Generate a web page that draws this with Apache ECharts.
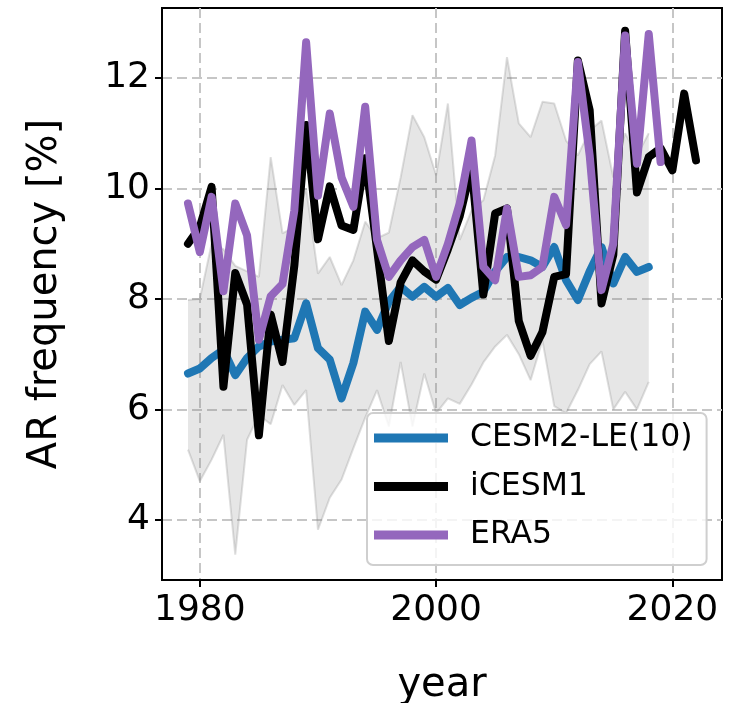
<!DOCTYPE html>
<html>
<head>
<meta charset="utf-8">
<script src="https://cdn.jsdelivr.net/npm/echarts@6/dist/echarts.min.js"></script>
<style>html,body{margin:0;padding:0;background:#fff}#c{width:746px;height:703px}</style>
</head>
<body>
<div id="c"></div>
<script>
const cesmYears = [1979,1980,1981,1982,1983,1984,1985,1986,1987,1988,1989,1990,1991,1992,1993,1994,1995,1996,1997,1998,1999,2000,2001,2002,2003,2004,2005,2006,2007,2008,2009,2010,2011,2012,2013,2014,2015,2016,2017,2018];
const cesm2 = [6.65,6.74,6.93,7.08,6.62,6.93,7.14,7.23,7.26,7.29,7.92,7.11,6.90,6.20,6.84,7.77,7.44,7.95,8.22,8.04,8.22,8.04,8.20,7.89,8.02,8.13,8.50,8.76,8.76,8.70,8.58,8.94,8.34,7.98,8.50,8.94,8.28,8.76,8.49,8.58];
const bandLower = [5.27,4.70,5.09,5.54,3.37,5.45,5.90,5.73,6.44,6.08,6.35,3.82,4.40,4.73,5.30,5.85,6.35,5.69,6.86,5.69,6.65,5.93,6.20,6.10,6.45,6.85,7.14,7.35,7.00,6.53,7.25,6.06,5.93,6.35,6.82,7.05,6.00,6.32,6.00,6.50];
const bandUpper = [7.98,8.00,9.00,8.90,8.60,8.50,8.40,10.57,9.19,9.30,10.00,8.46,8.76,8.25,8.70,9.40,9.10,9.20,10.20,11.33,10.93,10.24,11.54,9.07,9.60,9.79,10.60,12.38,11.18,10.93,11.57,11.54,10.87,10.60,11.05,11.23,10.20,11.00,10.60,11.00];
const icesmYears = [1979,1980,1981,1982,1983,1984,1985,1986,1987,1988,1989,1990,1991,1992,1993,1994,1995,1996,1997,1998,1999,2000,2001,2002,2003,2004,2005,2006,2007,2008,2009,2010,2011,2012,2013,2014,2015,2016,2017,2018,2019,2020,2021,2022];
const icesm1 = [9.00,9.30,10.03,6.41,8.47,7.90,5.53,7.72,6.86,8.60,11.15,9.08,10.04,9.33,9.25,10.55,8.90,7.24,8.30,8.70,8.50,8.35,8.90,9.50,10.40,8.08,9.55,9.64,7.60,6.97,7.40,8.40,8.45,12.32,11.42,7.92,8.80,12.86,9.93,10.57,10.73,10.33,11.72,10.51];
const era5Years = [1979,1980,1981,1982,1983,1984,1985,1986,1987,1988,1989,1990,1991,1992,1993,1994,1995,1996,1997,1998,1999,2000,2001,2002,2003,2004,2005,2006,2007,2008,2009,2010,2011,2012,2013,2014,2015,2016,2017,2018,2019];
const era5 = [9.73,8.85,9.85,8.14,9.73,9.15,7.26,8.05,8.27,9.60,12.65,9.87,11.36,10.20,9.67,11.48,9.07,8.40,8.70,8.94,9.07,8.40,9.00,9.73,10.87,8.58,8.34,9.64,8.40,8.43,8.58,9.85,9.34,12.29,10.60,8.16,9.00,12.77,10.45,12.80,10.48];
const xTicks = [1980, 2000, 2020];
const yTicks = [4, 6, 8, 10, 12];
const seriesNames = ['CESM2-LE(10)', 'iCESM1', 'ERA5'];

const FONT = 'DejaVu Sans';
const pair = (xs, ys) => xs.map((x, i) => [x, ys[i]]);

const chart = echarts.init(document.getElementById('c'), null, {renderer: 'canvas'});
const gridLine = {show: true, lineStyle: {color: '#c6c6c6', width: 2, type: [10, 5]}};
const bandEdge = {color: 'rgba(128,128,128,0.25)', width: 2};
chart.setOption({
  animation: false,
  grid: {left: 162, top: 8, width: 560, height: 572, show: true, borderColor: '#000', borderWidth: 2, backgroundColor: 'transparent', containLabel: false, outerBoundsMode: 'none'},
  xAxis: {
    type: 'value', min: 1976.8, max: 2024.2,
    name: 'year', nameLocation: 'middle', nameGap: 86,
    nameTextStyle: {fontFamily: FONT, fontSize: 40, color: '#000'},
    axisLine: {show: true, lineStyle: {color: '#000', width: 2}},
    axisTick: {show: true, length: 7, lineStyle: {color: '#000', width: 2}, customValues: xTicks},
    axisLabel: {show: true, fontFamily: FONT, fontSize: 36, color: '#000', margin: 13, customValues: xTicks, formatter: v => String(v)},
    splitLine: gridLine
  },
  yAxis: {
    type: 'value', min: 2.91, max: 13.27,
    name: 'AR frequency [%]', nameLocation: 'middle', nameGap: 96,
    nameTextStyle: {fontFamily: FONT, fontSize: 40, color: '#000'},
    axisLine: {show: true, lineStyle: {color: '#000', width: 2}},
    axisTick: {show: true, length: 7, lineStyle: {color: '#000', width: 2}, customValues: yTicks},
    axisLabel: {show: true, fontFamily: FONT, fontSize: 36, color: '#000', margin: 12, customValues: yTicks, formatter: v => String(v)},
    splitLine: gridLine
  },
  legend: {
    orient: 'vertical', left: 367, top: 413,
    padding: [7, 14, 12, 7],
    itemWidth: 74, itemHeight: 9, itemGap: 12.5, icon: 'rect',
    textStyle: {fontFamily: FONT, fontSize: 31.5, color: '#000', lineHeight: 36, padding: [0, 0, 0, 17]},
    backgroundColor: 'rgba(255,255,255,0.8)', borderColor: '#cfcfcf', borderWidth: 2, borderRadius: 6,
    data: seriesNames
  },
  series: [
    {type: 'custom', name: 'band', data: pair(cesmYears, bandUpper), encode: {x: 0, y: 1}, z: 1, silent: true, clip: true,
     renderItem: function (params, api) {
       if (params.dataIndex !== 0) return null;
       const pts = [];
       for (let i = 0; i < cesmYears.length; i++) pts.push(api.coord([cesmYears[i], bandUpper[i]]));
       for (let i = cesmYears.length - 1; i >= 0; i--) pts.push(api.coord([cesmYears[i], bandLower[i]]));
       return {type: 'polygon', shape: {points: pts}, style: {fill: 'rgba(128,128,128,0.2)', stroke: null}};
     }},
    {type: 'line', name: 'bandLow', data: pair(cesmYears, bandLower), symbol: 'none', lineStyle: bandEdge, z: 2, silent: true},
    {type: 'line', name: 'bandHigh', data: pair(cesmYears, bandUpper), symbol: 'none', lineStyle: bandEdge, z: 2, silent: true},
    {type: 'line', name: seriesNames[0], data: pair(cesmYears, cesm2), symbol: 'none', color: '#1f77b4',
     lineStyle: {color: '#1f77b4', width: 8, join: 'round', cap: 'round'}, z: 3},
    {type: 'line', name: seriesNames[1], data: pair(icesmYears, icesm1), symbol: 'none', color: '#000000',
     lineStyle: {color: '#000000', width: 8, join: 'round', cap: 'round'}, z: 4},
    {type: 'line', name: seriesNames[2], data: pair(era5Years, era5), symbol: 'none', color: '#9467bd',
     lineStyle: {color: '#9467bd', width: 8, join: 'round', cap: 'round'}, z: 5}
  ]
});
</script>
</body>
</html>
